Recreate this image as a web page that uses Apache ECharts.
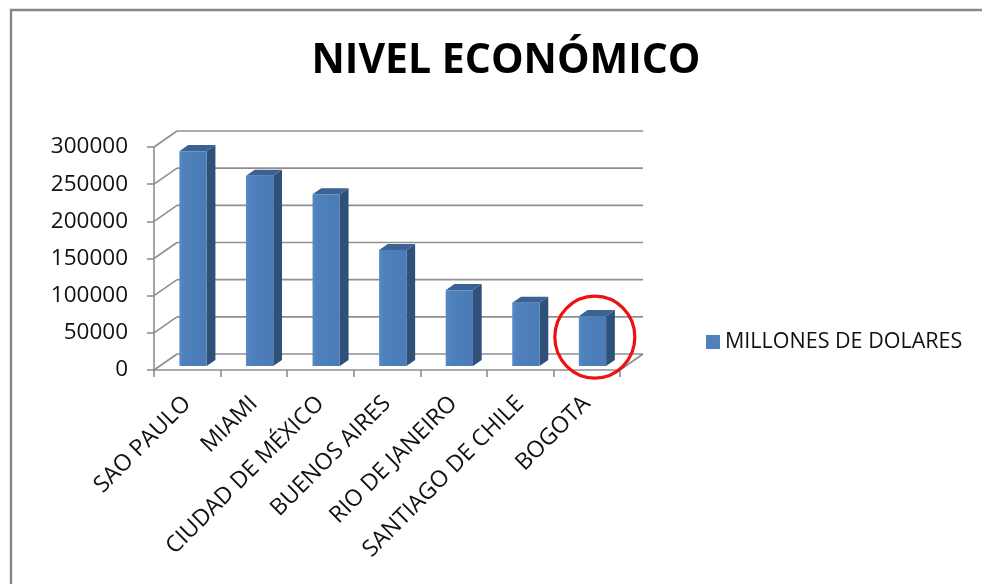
<!DOCTYPE html>
<html>
<head>
<meta charset="utf-8">
<style>
  html, body { margin: 0; padding: 0; background: #fff; }
  #chart { width: 982px; height: 584px; }
</style>
<script src="https://cdn.jsdelivr.net/npm/echarts@6/dist/echarts.min.js"></script>
</head>
<body>
<div id="chart"></div>
<script>
// Ciudades y su nivel económico (millones de dólares)
const categories = ['SAO PAULO', 'MIAMI', 'CIUDAD DE MÉXICO', 'BUENOS AIRES', 'RIO DE JANEIRO', 'SANTIAGO DE CHILE', 'BOGOTA'];
const values = [289000, 256000, 231000, 156000, 102000, 85000, 67000];
const yTicks = [0, 50000, 100000, 150000, 200000, 250000, 300000];
const seriesName = 'MILLONES DE DOLARES';
const chartTitle = 'NIVEL ECONÓMICO';
const highlighted = 'BOGOTA';

// Oblique projection of the back wall relative to the front plane
const DEPTH_X = 23;
const DEPTH_Y = -16;
const BAR_FRONT = 0.25;   // depth where the bar front face sits
const BAR_DEPTH = 0.38;   // bar thickness as fraction of the full depth
const BAR_WIDTH = 0.41;   // bar width as fraction of a category band

const FONT = '"Open Sans", Lato, sans-serif';
const GRID_COLOR = '#8f8f8f';

const chart = echarts.init(document.getElementById('chart'), null, { renderer: 'canvas' });

function renderFrame(params, api) {
  const v = api.value(1);
  const band = api.size([1, 0])[0];
  const first = api.coord([0, v]);
  const last = api.coord([categories.length - 1, v]);
  const x0 = first[0] - band / 2;
  const x1 = last[0] + band / 2;
  const y = first[1];
  const lineStyle = { stroke: GRID_COLOR, lineWidth: 1.6, fill: null };
  const children = [
    // left wall diagonal
    { type: 'line', shape: { x1: x0, y1: y, x2: x0 + DEPTH_X, y2: y + DEPTH_Y }, style: lineStyle },
    // back wall gridline
    { type: 'line', shape: { x1: x0 + DEPTH_X, y1: y + DEPTH_Y, x2: x1 + DEPTH_X, y2: y + DEPTH_Y }, style: lineStyle }
  ];
  if (v === 0) {
    // right edge of the floor
    children.push({ type: 'line', shape: { x1: x1, y1: y, x2: x1 + DEPTH_X, y2: y + DEPTH_Y }, style: lineStyle });
  }
  return { type: 'group', children };
}

function renderBar(params, api) {
  const i = api.value(0);
  const v = api.value(1);
  const base = api.coord([i, 0]);
  const top = api.coord([i, v]);
  const band = api.size([1, 0])[0];
  const w = band * BAR_WIDTH;
  const ox = DEPTH_X * BAR_FRONT, oy = DEPTH_Y * BAR_FRONT;
  const sx = DEPTH_X * BAR_DEPTH, sy = DEPTH_Y * BAR_DEPTH;
  const x = base[0] - w / 2 + ox;
  const yt = top[1] + oy;
  const yb = base[1] + oy;
  return {
    type: 'group',
    children: [
      {
        type: 'polygon',
        shape: { points: [[x + w, yt], [x + w + sx, yt + sy], [x + w + sx, yb + sy], [x + w, yb]] },
        style: { fill: '#2f5078' }
      },
      {
        type: 'polygon',
        shape: { points: [[x, yt], [x + sx, yt + sy], [x + w + sx, yt + sy], [x + w, yt]] },
        style: { fill: '#3a6294' }
      },
      {
        type: 'rect',
        shape: { x: x, y: yt, width: w, height: yb - yt },
        style: {
          fill: new echarts.graphic.LinearGradient(0, 0, 1, 0, [
            { offset: 0, color: '#5a8ac4' },
            { offset: 0.15, color: '#4f81bd' },
            { offset: 1, color: '#4a7bb7' }
          ])
        }
      }
    ]
  };
}

// Red ring drawn around one of the columns
function renderRing(params, api) {
  const i = api.value(0);
  const v = api.value(1);
  const mid = api.coord([i, v / 2]);
  const cx = mid[0] + DEPTH_X * (BAR_FRONT + BAR_DEPTH / 2) - 2;
  const cy = mid[1] + DEPTH_Y * (BAR_FRONT + BAR_DEPTH / 2) - 1;
  return {
    type: 'ellipse',
    shape: { cx: cx, cy: cy, rx: 40, ry: 41 },
    style: { fill: null, stroke: '#ee1111', lineWidth: 3.2 }
  };
}

const ringIndex = categories.indexOf(highlighted);

const option = {
  backgroundColor: '#ffffff',
  animation: false,
  title: {
    text: chartTitle,
    left: 501,
    top: 36,
    textAlign: 'center',
    textStyle: { fontFamily: FONT, fontWeight: 'bold', fontSize: 41, color: '#000' }
  },
  legend: {
    data: [{ name: seriesName, icon: 'rect' }],
    left: 706,
    top: 331,
    padding: 0,
    itemWidth: 14,
    itemHeight: 14,
    textStyle: { fontFamily: FONT, fontSize: 21.5, color: '#111' }
  },
  grid: { left: 154, right: 362, top: 147, bottom: 214 },
  xAxis: {
    type: 'category',
    data: categories,
    boundaryGap: true,
    axisLine: { lineStyle: { color: GRID_COLOR, width: 1.6 } },
    axisTick: { show: true, interval: 0, length: 7, lineStyle: { color: GRID_COLOR, width: 1.6 } },
    axisLabel: {
      interval: 0,
      rotate: 45,
      margin: 30,
      fontFamily: FONT,
      fontSize: 23,
      color: '#111'
    }
  },
  yAxis: {
    type: 'value',
    min: 0,
    max: 300000,
    interval: 50000,
    axisLine: { show: true, lineStyle: { color: GRID_COLOR, width: 1.6 } },
    axisTick: { show: true, length: 7, lineStyle: { color: GRID_COLOR, width: 1.6 } },
    splitLine: { show: false },
    axisLabel: {
      margin: 26,
      fontFamily: FONT,
      fontSize: 22.5,
      color: '#111',
      formatter: v => String(v)
    }
  },
  series: [
    {
      name: 'frame',
      type: 'custom',
      renderItem: renderFrame,
      data: yTicks.map(v => [0, v]),
      z: 1,
      silent: true
    },
    {
      name: seriesName,
      type: 'custom',
      renderItem: renderBar,
      itemStyle: { color: '#4f81bd' },
      data: values.map((v, i) => [i, v]),
      z: 3
    },
    {
      name: 'ring',
      type: 'custom',
      renderItem: renderRing,
      data: [[ringIndex, values[ringIndex]]],
      clip: false,
      z: 5,
      silent: true
    }
  ],
  graphic: [
    {
      type: 'polyline',
      shape: { points: [[11, 584], [11, 10], [982, 10]] },
      style: { stroke: '#878787', lineWidth: 2.4, fill: null },
      silent: true
    }
  ]
};

chart.setOption(option);
</script>
</body>
</html>
